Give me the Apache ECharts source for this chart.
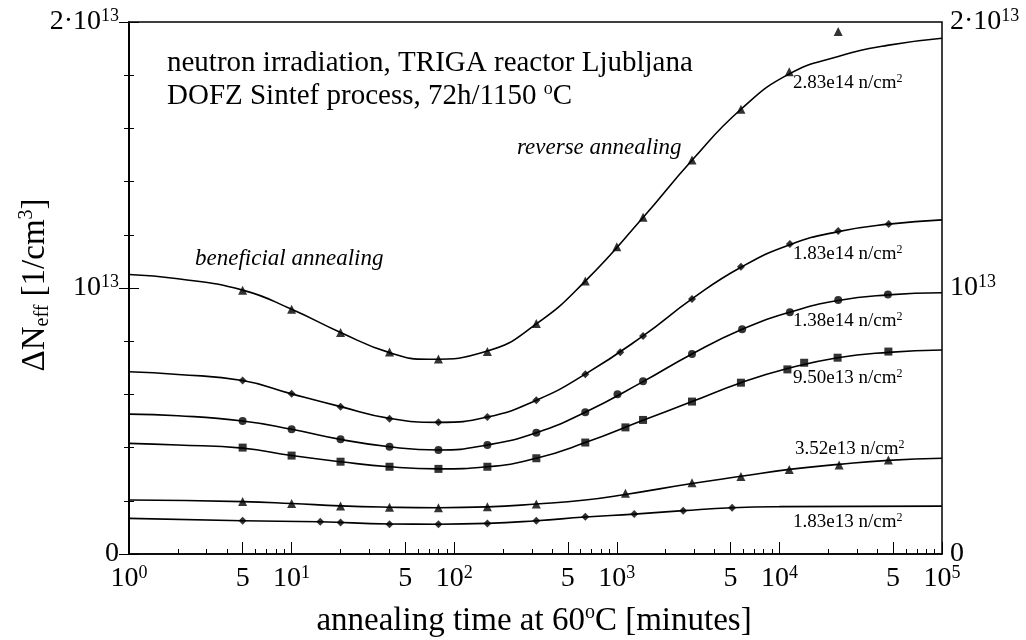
<!DOCTYPE html>
<html><head><meta charset="utf-8">
<script src="https://cdn.jsdelivr.net/npm/echarts@6/dist/echarts.min.js"></script>
<style>html,body{margin:0;padding:0;background:#fff}#c{width:1026px;height:640px}</style>
</head><body><div id="c"></div>
<script>
// ---- data (time in minutes, ΔNeff in units of 1e13 cm^-3) ----
const fluenceLabels = ['2.83e14', '1.83e14', '1.38e14', '9.50e13', '3.52e13', '1.83e13'];
const markerSymbols = ['triangle', 'diamond', 'circle', 'rect', 'triangle', 'diamond'];

const pts283e14 = [[5,0.992],[10,0.92],[20,0.833],[40,0.759],[80,0.733],[160,0.761],[320,0.867],[640,1.026],[1000,1.155],[1450,1.266],[2900,1.481],[5800,1.672],[11500,1.813],[23000,1.964]];
const pts183e14 = [[5,0.652],[10,0.602],[20,0.554],[40,0.508],[80,0.495],[160,0.515],[320,0.578],[640,0.676],[1050,0.758],[1450,0.820],[2900,0.959],[5800,1.080],[11600,1.165],[23000,1.214],[47000,1.241]];
const pts138e14 = [[5,0.500],[10,0.469],[20,0.431],[40,0.403],[80,0.391],[160,0.410],[320,0.456],[640,0.533],[1010,0.601],[1450,0.649],[2900,0.752],[5900,0.845],[11600,0.909],[23000,0.955],[46500,0.976]];
const pts950e13 = [[5,0.400],[10,0.370],[20,0.347],[40,0.328],[80,0.320],[160,0.328],[320,0.360],[640,0.419],[1130,0.476],[1450,0.504],[2900,0.573],[5800,0.644],[11200,0.694],[14200,0.719],[22800,0.738],[46800,0.761]];
const pts352e13 = [[5,0.197],[10,0.190],[20,0.180],[40,0.176],[80,0.174],[160,0.178],[320,0.188],[1130,0.228],[2900,0.268],[5800,0.291],[11500,0.318],[23300,0.335],[46800,0.353]];
const pts183e13 = [[5,0.125],[15,0.121],[20,0.118],[40,0.112],[80,0.112],[160,0.115],[320,0.125],[640,0.140],[1280,0.150],[2560,0.163],[5120,0.174]];

const fit283e14 = [[1,1.051],[2,1.035],[5,0.992],[10,0.92],[20,0.833],[40,0.757],[70,0.732],[160,0.763],[320,0.865],[640,1.026],[1450,1.265],[2900,1.48],[5800,1.672],[11500,1.805],[23000,1.87],[46000,1.912],[100000,1.939]];
const fit183e14 = [[1,0.685],[2,0.675],[5,0.652],[10,0.602],[20,0.554],[40,0.510],[80,0.495],[160,0.515],[320,0.578],[640,0.676],[1450,0.820],[2900,0.959],[5800,1.078],[11600,1.163],[23000,1.212],[47000,1.240],[100000,1.256]];
const fit138e14 = [[1,0.526],[2,0.52],[5,0.500],[10,0.469],[20,0.431],[40,0.403],[80,0.391],[160,0.410],[320,0.456],[640,0.533],[1450,0.648],[2900,0.752],[5900,0.845],[11600,0.909],[23000,0.953],[46500,0.974],[100000,0.982]];
const fit950e13 = [[1,0.416],[2,0.41],[5,0.398],[10,0.370],[20,0.347],[40,0.328],[80,0.320],[160,0.328],[320,0.360],[640,0.419],[1450,0.503],[2900,0.573],[5800,0.644],[11200,0.697],[22800,0.738],[46800,0.758],[100000,0.767]];
const fit352e13 = [[1,0.203],[5,0.197],[10,0.190],[20,0.181],[40,0.176],[80,0.174],[160,0.177],[320,0.188],[640,0.203],[1130,0.224],[2900,0.265],[5800,0.292],[11500,0.318],[23300,0.337],[46800,0.352],[100000,0.360]];
const fit183e13 = [[1,0.134],[5,0.125],[15,0.121],[40,0.113],[80,0.112],[160,0.115],[320,0.125],[640,0.139],[1280,0.150],[2560,0.163],[5120,0.174],[10000,0.178],[100000,0.180]];

const xMin = 1, xMax = 100000;
const yMin = 0, yMax = 2, yInterval = 1;

// ---- build ----
const fits = [fit283e14, fit183e14, fit138e14, fit950e13, fit352e13, fit183e13];
const pts = [pts283e14, pts183e14, pts138e14, pts950e13, pts352e13, pts183e13];
const serif = 'Liberation Serif';

const minorExp = [];
const fiveExp = [];
for (let d = 0; d < 5; d++) {
  for (const k of [2, 3, 4, 6, 7, 8, 9]) minorExp.push(d + Math.log10(k));
  fiveExp.push(d + Math.log10(5));
}

const labelRich = {
  a: { fontFamily: serif, fontSize: 28, color: '#000', lineHeight: 30 },
  sup: { fontFamily: serif, fontSize: 18, color: '#000', verticalAlign: 'top', lineHeight: 18 }
};
function yFmt(v) {
  if (v === 0) return '{a|0}';
  if (v === 1) return '{a|10}{sup|13}';
  return '{a|2·10}{sup|13}';
}

const series = [];
fits.forEach((f) => {
  series.push({
    type: 'line', data: f, xAxisIndex: 0, yAxisIndex: 0,
    showSymbol: false, smooth: 0.5,
    lineStyle: { color: '#000', width: 1.6 }, silent: true
  });
});
pts.forEach((p, i) => {
  const s = markerSymbols[i];
  series.push({
    type: 'scatter', data: p, xAxisIndex: 0, yAxisIndex: 0,
    symbol: s,
    symbolSize: s === 'triangle' ? 9 : 8,
    itemStyle: { color: '#000' }, silent: true
  });
});

const fluenceLabelPos = [[793, 83], [793, 254], [793, 321], [793, 378], [795, 449], [793, 522]];
const smallRich = {
  s: { fontFamily: serif, fontSize: 19, fill: '#000', lineHeight: 20 },
  p: { fontFamily: serif, fontSize: 12, fill: '#000', verticalAlign: 'top', lineHeight: 12 }
};
const graphics = fluenceLabels.map((t, i) => ({
  type: 'text', x: fluenceLabelPos[i][0], y: fluenceLabelPos[i][1], silent: true,
  style: { text: '{s|' + t + ' n/cm}{p|2}', rich: smallRich, verticalAlign: 'middle', align: 'left' }
}));

const bigRich = {
  t: { fontFamily: serif, fontSize: 29, fill: '#000', lineHeight: 32 },
  p: { fontFamily: serif, fontSize: 18, fill: '#000', verticalAlign: 'top', lineHeight: 18 }
};
const titleRich = {
  t: { fontFamily: serif, fontSize: 33, fill: '#000', lineHeight: 36 },
  p: { fontFamily: serif, fontSize: 20, fill: '#000', verticalAlign: 'top', lineHeight: 20 },
  b: { fontFamily: serif, fontSize: 20, fill: '#000', verticalAlign: 'bottom', lineHeight: 16 }
};
graphics.push(
  { type: 'text', x: 167, y: 63, silent: true,
    style: { text: '{t|neutron irradiation, TRIGA reactor Ljubljana}', rich: bigRich, verticalAlign: 'middle' } },
  { type: 'text', x: 167, y: 96, silent: true,
    style: { text: '{t|DOFZ Sintef process, 72h/1150 }{p|o}{t|C}', rich: bigRich, verticalAlign: 'middle' } },
  { type: 'text', x: 195, y: 259, silent: true,
    style: { text: 'beneficial annealing', font: 'italic 23px "Liberation Serif"', fill: '#000', verticalAlign: 'middle' } },
  { type: 'text', x: 517, y: 148, silent: true,
    style: { text: 'reverse annealing', font: 'italic 23px "Liberation Serif"', fill: '#000', verticalAlign: 'middle' } },
  { type: 'text', x: 534, y: 621, silent: true,
    style: { text: '{t|annealing time at 60}{p|o}{t|C [minutes]}', rich: titleRich, align: 'center', verticalAlign: 'middle' } },
  { type: 'text', x: 35, y: 285, rotation: Math.PI / 2, silent: true,
    style: { text: '{t|ΔN}{b|eff}{t| [1/cm}{p|3}{t|]}', rich: titleRich, align: 'center', verticalAlign: 'middle' } }
);

const option = {
  animation: false,
  backgroundColor: '#fff',
  grid: { left: 129, right: 84, top: 22, bottom: 86, show: true, borderColor: '#000', borderWidth: 1.5, backgroundColor: 'transparent' },
  xAxis: [
    { type: 'log', logBase: 10, min: xMin, max: xMax, position: 'bottom',
      axisLine: { show: true, lineStyle: { color: '#000', width: 1.5 } },
      axisTick: { show: true, inside: true, length: 12, lineStyle: { color: '#000', width: 1 } },
      axisLabel: { margin: 10, formatter: v => '{a|10}{sup|' + Math.round(Math.log10(v)) + '}', rich: labelRich },
      splitLine: { show: false } },
    { type: 'value', min: 0, max: 5, position: 'bottom',
      axisLine: { show: false },
      axisTick: { show: true, inside: true, length: 5, customValues: minorExp, lineStyle: { color: '#000', width: 1 } },
      axisLabel: { show: false }, splitLine: { show: false } },
    { type: 'value', min: 0, max: 5, position: 'bottom',
      axisLine: { show: false },
      axisTick: { show: true, inside: true, length: 12, customValues: fiveExp, lineStyle: { color: '#000', width: 1 } },
      axisLabel: { show: true, margin: 10, customValues: fiveExp, formatter: () => '{a|5}', rich: labelRich },
      splitLine: { show: false } }
  ],
  yAxis: [
    { type: 'value', min: yMin, max: yMax, interval: yInterval, position: 'left',
      axisLine: { show: true, lineStyle: { color: '#000', width: 1.5 } },
      axisTick: { show: true, inside: true, length: 10, lineStyle: { color: '#000', width: 1 } },
      minorTick: { show: true, splitNumber: 5, length: 5, lineStyle: { color: '#000', width: 1 } },
      axisLabel: { margin: 10, formatter: yFmt, rich: labelRich },
      splitLine: { show: false } },
    { type: 'value', min: yMin, max: yMax, interval: yInterval, position: 'right',
      axisLine: { show: true, lineStyle: { color: '#000', width: 1.5 } },
      axisTick: { show: true, inside: true, length: 10, lineStyle: { color: '#000', width: 1 } },
      minorTick: { show: true, splitNumber: 5, length: 5, lineStyle: { color: '#000', width: 1 } },
      axisLabel: { margin: 8, formatter: yFmt, rich: labelRich },
      splitLine: { show: false } }
  ],
  series: series,
  graphic: graphics
};
const chart = echarts.init(document.getElementById('c'));
chart.setOption(option);
</script>
</body></html>
